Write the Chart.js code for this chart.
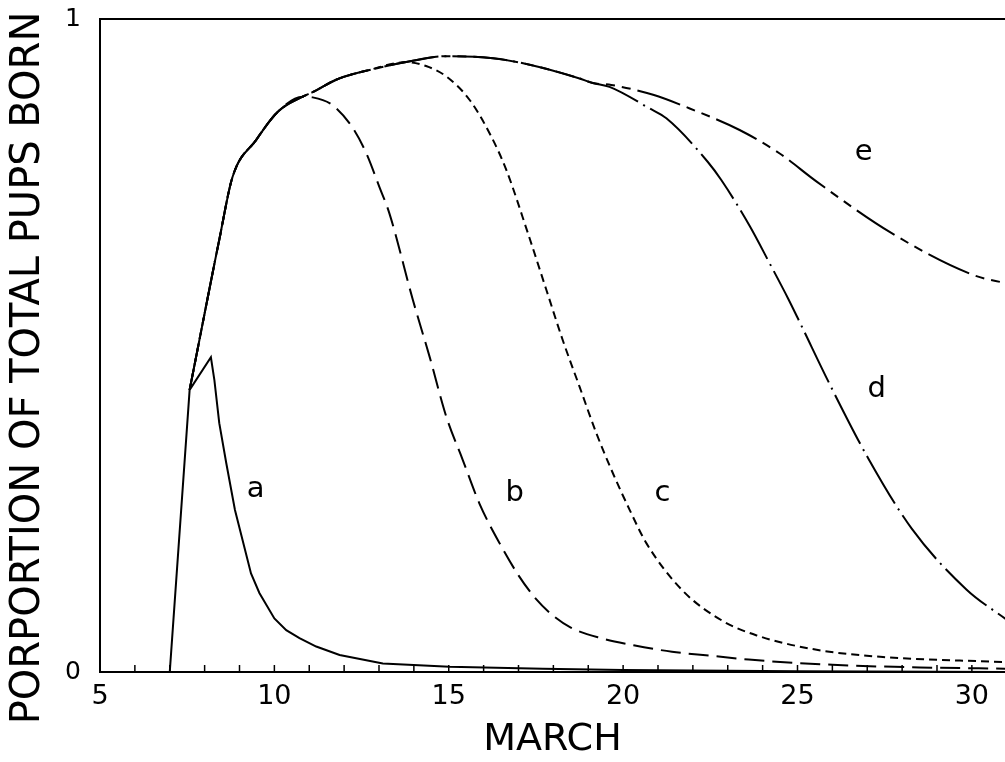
<!DOCTYPE html>
<html>
<head>
<meta charset="utf-8">
<script src="https://cdn.jsdelivr.net/npm/chart.js@4.4.0/dist/chart.umd.min.js"></script>
<style>
html,body{margin:0;padding:0;background:#fff;}
canvas{display:block;}
</style>
</head>
<body>
<canvas id="c" width="1005" height="762"></canvas>
<script>
// ---- tick labels ----
const xTickLabels = [5, 10, 15, 20, 25, 30];
const yTickLabels = [0, 1];
const xMin = 5, xMax = 30.95;

// ---- shared rising part (March day, proportion of pups born) ----
const startX = [7.0, 7.57];
const startY = [0.0, 0.432];
const env2X = [7.57, 8.42, 8.80, 9.48, 10.10, 10.81];
const env2Y = [0.432, 0.662, 0.758, 0.815, 0.858, 0.881];
const env3X = [11.10, 11.77, 12.73, 13.78];
const env3Y = [0.888, 0.907, 0.922, 0.934];
const env4X = [14.93, 16.27, 17.32, 18.75, 19.13];
const env4Y = [0.943, 0.940, 0.930, 0.909, 0.902];

// ---- individual tails ----
const aTailX = [8.18, 8.28, 8.42, 8.62, 8.87, 9.33, 9.57, 10.0, 10.34, 10.72, 11.20, 11.87, 13.11, 15.02, 17.7, 20.0, 25.0, 31.0];
const aTailY = [0.482, 0.447, 0.381, 0.320, 0.248, 0.151, 0.121, 0.082, 0.064, 0.052, 0.039, 0.026, 0.013, 0.008, 0.005, 0.003, 0.001, 0.0];

const bTailX = [11.10, 11.67, 12.25, 12.63, 13.01, 13.30, 13.97, 14.45, 14.93, 15.40, 15.88, 16.46, 17.0, 17.5, 18.0, 18.5, 19.35, 20.3, 21.4, 22.5, 23.6, 26.0, 28.5, 31.0];
const bTailY = [0.880, 0.868, 0.833, 0.795, 0.743, 0.702, 0.570, 0.483, 0.391, 0.325, 0.258, 0.197, 0.148, 0.112, 0.086, 0.068, 0.052, 0.041, 0.031, 0.025, 0.019, 0.011, 0.007, 0.005];

const cTailX = [14.35, 14.93, 15.60, 16.20, 16.65, 17.27, 17.80, 18.27, 18.75, 19.23, 19.71, 20.19, 20.67, 21.7, 22.86, 23.83, 25.55, 27.45, 31.0];
const cTailY = [0.928, 0.912, 0.876, 0.822, 0.769, 0.672, 0.585, 0.508, 0.437, 0.366, 0.304, 0.248, 0.197, 0.125, 0.078, 0.056, 0.034, 0.023, 0.015];

const dTailX = [19.61, 20.76, 21.24, 22.43, 22.82, 23.63, 24.2, 24.73, 25.07, 25.93, 27.03, 28.27, 29.85, 31.0];
const dTailY = [0.896, 0.863, 0.848, 0.781, 0.753, 0.683, 0.626, 0.572, 0.535, 0.440, 0.327, 0.220, 0.126, 0.080];

const eTailX = [19.66, 20.86, 21.91, 23.34, 24.49, 25.55, 27.70, 30.04, 31.0];
const eTailY = [0.899, 0.884, 0.863, 0.830, 0.794, 0.751, 0.672, 0.608, 0.595];

// ---- curve labels (data coordinates) ----
const curveNames = ['a', 'b', 'c', 'd', 'e'];
const curveLabelX = [9.46, 16.89, 21.13, 27.27, 26.9];
const curveLabelY = [0.279, 0.274, 0.274, 0.432, 0.796];

function pts(xs, ys) { return xs.map((x, i) => ({x: x, y: ys[i]})); }
const S = pts(startX, startY), E2 = pts(env2X, env2Y), E3 = pts(env3X, env3Y), E4 = pts(env4X, env4Y);

const curveA = [...S, ...pts(aTailX, aTailY)];
const curveB = [...E2, ...pts(bTailX, bTailY)];
const curveC = [...E2, ...E3, ...pts(cTailX, cTailY)];
const curveD = [...E2, ...E3, ...E4, ...pts(dTailX, dTailY)];
const curveE = [...E2, ...E3, ...E4, ...pts(eTailX, eTailY)];

const FONT = '"DejaVu Sans", "Liberation Sans", sans-serif';

const decor = {
  id: 'decor',
  afterDraw(chart) {
    const ctx = chart.ctx, ca = chart.chartArea;
    const xs = chart.scales.x, ys = chart.scales.y;
    ctx.save();
    ctx.strokeStyle = '#000';
    ctx.lineWidth = 2;
    ctx.beginPath();
    ctx.moveTo(ca.left, ca.top);
    ctx.lineTo(ca.right, ca.top);
    ctx.stroke();
    ctx.lineWidth = 1.5;
    for (let v = Math.ceil(xMin); v <= xMax; v++) {
      const px = xs.getPixelForValue(v);
      ctx.beginPath();
      ctx.moveTo(px, ca.bottom);
      ctx.lineTo(px, ca.bottom - 7);
      ctx.stroke();
    }
    ctx.fillStyle = '#000';
    ctx.font = '29px ' + FONT;
    ctx.textAlign = 'center';
    ctx.textBaseline = 'middle';
    curveNames.forEach((n, i) => {
      ctx.fillText(n, xs.getPixelForValue(curveLabelX[i]), ys.getPixelForValue(curveLabelY[i]));
    });
    ctx.font = '38px ' + FONT;
    ctx.fillText('MARCH', (ca.left + ca.right) / 2, 740);
    ctx.translate(29, 368);
    ctx.rotate(-Math.PI / 2);
    ctx.font = '40px ' + FONT;
    ctx.fillText('PORPORTION OF TOTAL PUPS BORN', 0, 0);
    ctx.restore();
  }
};

function ds(data, dash, smooth) {
  return {
    data: data,
    borderColor: '#000',
    borderWidth: 2,
    borderDash: dash,
    pointRadius: 0,
    fill: false,
    tension: smooth ? 0.4 : 0,
    cubicInterpolationMode: smooth ? 'monotone' : 'default',
    showLine: true
  };
}

new Chart(document.getElementById('c'), {
  type: 'line',
  data: {
    datasets: [
      ds(curveB, [20, 8], true),
      ds(curveC, [8, 5], true),
      ds(curveD, [55, 6, 2, 6], true),
      ds(curveE, [45, 7, 9, 7, 9, 7], true),
      ds(curveA, [], false)
    ]
  },
  options: {
    responsive: false,
    animation: false,
    layout: { padding: { top: 19, right: 0, left: 0, bottom: 0 }, autoPadding: false },
    plugins: { legend: { display: false }, tooltip: { enabled: false } },
    scales: {
      x: {
        type: 'linear',
        min: xMin,
        max: xMax,
        afterBuildTicks: (s) => { s.ticks = xTickLabels.map(v => ({value: v})); },
        afterFit: (s) => { s.height = 90; s.paddingLeft = 0; s.paddingRight = 0; },
        grid: { display: false, drawTicks: false },
        border: { display: true, color: '#000', width: 2 },
        ticks: { color: '#000', font: { family: FONT, size: 27 }, padding: 9, maxRotation: 0 }
      },
      y: {
        type: 'linear',
        min: 0,
        max: 1,
        afterBuildTicks: (s) => { s.ticks = yTickLabels.map(v => ({value: v})); },
        afterFit: (s) => { s.width = 100; s.paddingTop = 0; s.paddingBottom = 0; },
        grid: { display: false, drawTicks: false },
        border: { display: true, color: '#000', width: 2 },
        ticks: { color: '#000', font: { family: FONT, size: 25 }, padding: 19 }
      }
    }
  },
  plugins: [decor]
});
</script>
</body>
</html>
